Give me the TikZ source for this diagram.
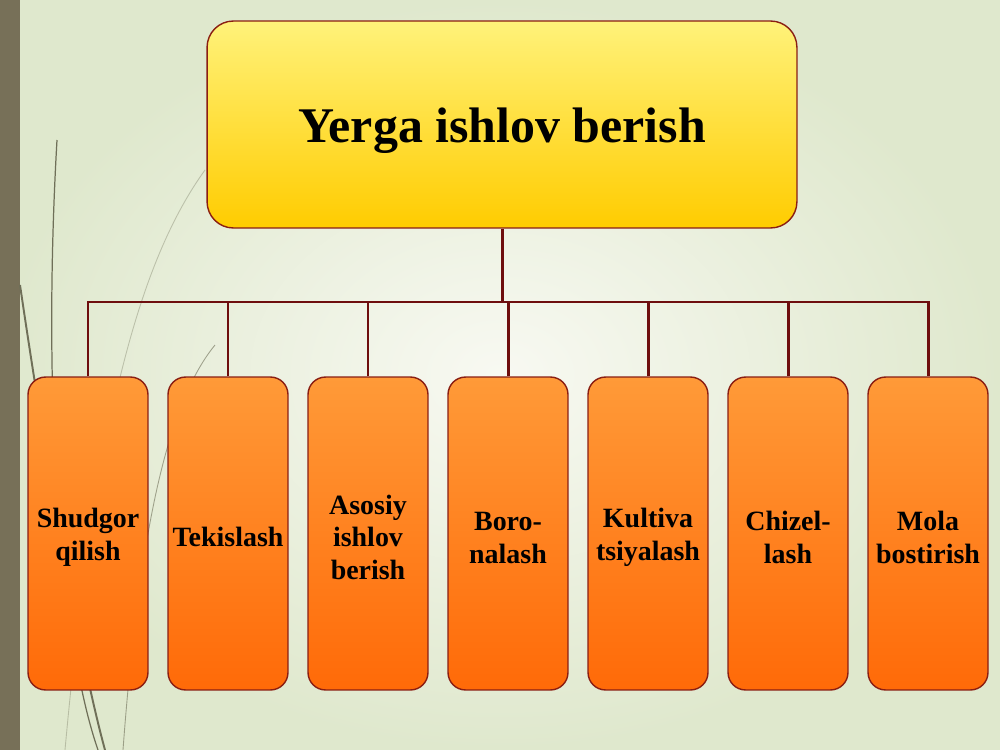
\documentclass[tikz,border=0pt]{standalone}
\usepackage{fontspec}
\setmainfont{Liberation Serif}
\newcommand{\lowr}{\rule{0pt}{15.5pt}}
\begin{document}
\begin{tikzpicture}[x=0.02cm,y=-0.02cm,
  link/.style={draw=linkred,line width=1.7pt,line join=miter},
  wisp/.style={draw=wispgray,line width=0.7pt},
  topbox/.style={draw=boxborder,line width=0.8pt,rounded corners=15pt,
    top color=topyellow,bottom color=botyellow,
    minimum width=11.8cm,minimum height=4.14cm,
    text height=27pt,text depth=6pt,
    font=\fontsize{28.4}{33}\selectfont\bfseries,text=black},
  subbox/.style={draw=boxborder,line width=0.8pt,rounded corners=10pt,
    top color=toporange,bottom color=botorange,
    minimum width=2.4cm,minimum height=6.26cm,align=center,
    font=\fontsize{15.9}{18.7}\selectfont\bfseries,text=black,inner sep=1pt}]
\definecolor{linkred}{HTML}{6E0E0E}
\definecolor{boxborder}{HTML}{8A1E12}
\definecolor{topyellow}{HTML}{FFF27A}
\definecolor{botyellow}{HTML}{FFCC00}
\definecolor{toporange}{HTML}{FF9A38}
\definecolor{botorange}{HTML}{FF6A08}
\definecolor{wispgray}{HTML}{6F6F58}
\definecolor{bginner}{HTML}{F8F9F2}
\definecolor{bgouter}{HTML}{DFE8CD}
\definecolor{stripe}{HTML}{777058}
\useasboundingbox (0,0) rectangle (1000,750);
% background
\shade[inner color=bginner,outer color=bgouter] (0,0) rectangle (1000,750);
\fill[stripe] (0,0) rectangle (20,750);
% decorative wisps
\draw[wisp] (57,140) .. controls (42,400) and (60,640) .. (98,750);
\draw[wisp,line width=1.1pt] (20,285) .. controls (40,420) and (75,640) .. (105,750);
\draw[wisp,opacity=0.35,line width=0.5pt] (205,170) .. controls (140,260) and (95,420) .. (65,750);
\draw[wisp,opacity=0.6,line width=0.5pt] (215,345) .. controls (170,400) and (140,520) .. (123,750);
% nodes
\node[topbox] (top) at (502,124.5) {Yerga ishlov berish};
\node[subbox] (b1) at (88,533.5) {\lowr Shudgor\\qilish};
\node[subbox] (b2) at (228,533.5) {\lowr Tekislash};
\node[subbox] (b3) at (368,533.5) {\lowr Asosiy\\ishlov\\berish};
\node[subbox] (b4) at (508,533.5) {\lowr Boro-\\nalash};
\node[subbox] (b5) at (648,533.5) {\lowr Kultiva\\tsiyalash};
\node[subbox] (b6) at (788,533.5) {\lowr Chizel-\\lash};
\node[subbox] (b7) at (928,533.5) {\lowr Mola\\bostirish};
% connectors
\coordinate (j) at (502,302);
\draw[link] (top.south) -- (j);
\draw[link] (b1.north) |- (j) -| (b7.north);
\foreach \b in {b2,b3,b4,b5,b6}
  \draw[link] (\b.north) -- (\b.north |- j);
\end{tikzpicture}
\end{document}
